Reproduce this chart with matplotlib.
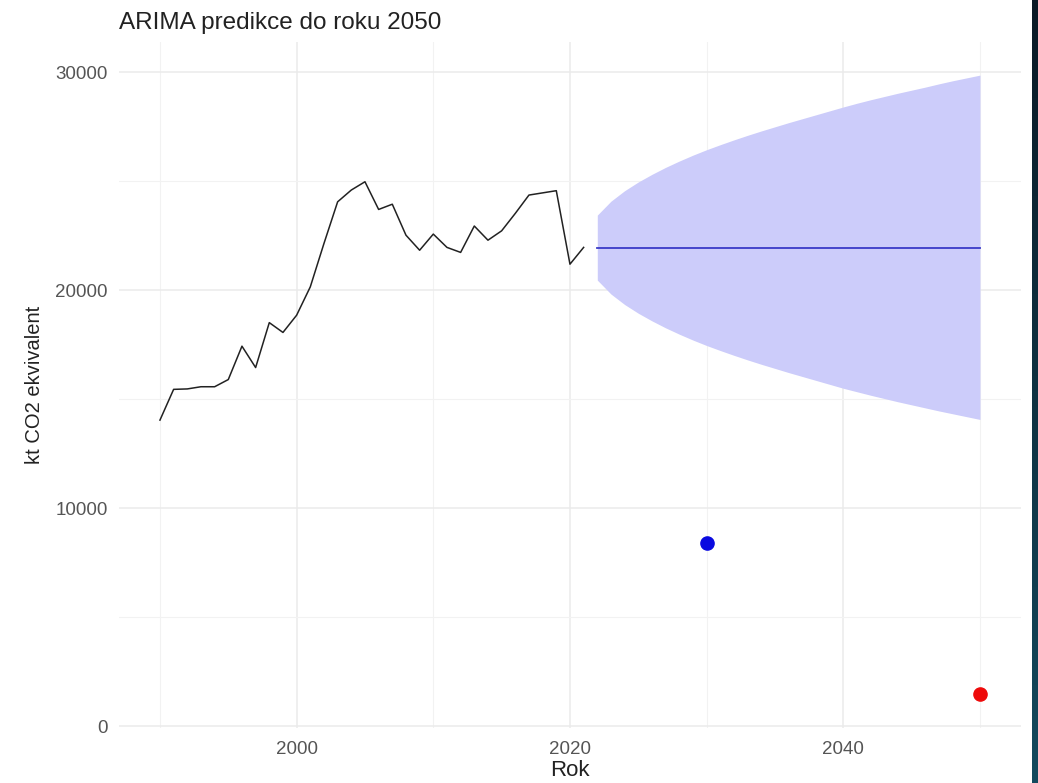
import numpy as np
import matplotlib
matplotlib.use("Agg")
import matplotlib.pyplot as plt

plt.rcParams['font.family'] = ['Liberation Sans', 'DejaVu Sans']

# historicke hodnoty (kt CO2 ekvivalent)
roky = list(range(1990, 2022))
emise = [14040, 15450, 15470, 15570, 15570, 15900, 17430, 16450, 18510, 18060,
         18850, 20150, 22140, 24050, 24590, 24970, 23700, 23940, 22520, 21830,
         22570, 21960, 21730, 22940, 22290, 22720, 23520, 24360, 24460, 24560,
         21190, 21960]

# ARIMA predikce
roky_pred = list(range(2022, 2051))
pred_mean = [21950] * len(roky_pred)
pred_horni = [23440, 24080, 24560, 24960, 25310, 25630, 25920, 26190, 26440,
              26670, 26890, 27100, 27300, 27490, 27680, 27860, 28040, 28220,
              28400, 28570, 28730, 28880, 29030, 29170, 29310, 29460, 29600,
              29730, 29860]
pred_dolni = [20460, 19820, 19340, 18940, 18590, 18270, 17980, 17710, 17460,
              17230, 17010, 16800, 16600, 16410, 16220, 16040, 15860, 15680,
              15500, 15340, 15180, 15030, 14880, 14740, 14600, 14460, 14330,
              14200, 14070]

# cile
cil_roky = [2030, 2050]
cil_hodnoty = [8390, 1470]
cil_barvy = ['#0a0ae0', '#ee0a0a']

fig = plt.figure(figsize=(10.38, 7.83), dpi=100)
fig.patch.set_facecolor('white')
ax = fig.add_axes([0.1146, 0.0702, 0.869, 0.8762])
ax.set_facecolor('white')

ax.fill_between(roky_pred, pred_dolni, pred_horni, color='#ccccfa', lw=0, zorder=2)
ax.plot(roky_pred, pred_mean, color='#3a3ac8', lw=1.3, zorder=3)
ax.plot(roky, emise, color='#222222', lw=1.1, zorder=3)
for r, h, c in zip(cil_roky, cil_hodnoty, cil_barvy):
    ax.plot(r, h, 'o', color=c, ms=9.5, zorder=4)

ax.set_xlim(1987, 2053)
ax.set_ylim(-80, 31380)
ax.set_xticks([2000, 2020, 2040])
ax.set_yticks([0, 10000, 20000, 30000])
ax.set_xticks([1990, 2010, 2030, 2050], minor=True)
ax.set_yticks([5000, 15000, 25000], minor=True)
ax.grid(True, which='major', color='#ebebeb', lw=1.1, zorder=0)
ax.grid(True, which='minor', color='#f2f2f2', lw=0.8, zorder=0)
ax.set_axisbelow(True)
for s in ax.spines.values():
    s.set_visible(False)
ax.tick_params(which='both', length=0)
ax.tick_params(axis='x', labelsize=13.5, labelcolor='#555555', pad=9)
ax.tick_params(axis='y', labelsize=13.5, labelcolor='#555555', pad=8)

ax.set_xlabel('Rok', fontsize=16, color='#222222', labelpad=2)
ax.set_ylabel('kt CO2 ekvivalent', fontsize=14.5, color='#222222', labelpad=8)
ax.set_title('ARIMA predikce do roku 2050', fontsize=17.5, color='#222222',
             loc='left', pad=9)

# tmavy pruh na pravem okraji snimku
strip = fig.add_axes([1032 / 1038, 0, 6 / 1038, 1])
grad = np.linspace(0, 1, 256).reshape(-1, 1)
strip.imshow(grad, aspect='auto', cmap=matplotlib.colors.LinearSegmentedColormap.from_list(
    'pruh', ['#0b1a26', '#134a5e']), origin='upper')
strip.axis('off')

fig.savefig('out.png', dpi=100)
